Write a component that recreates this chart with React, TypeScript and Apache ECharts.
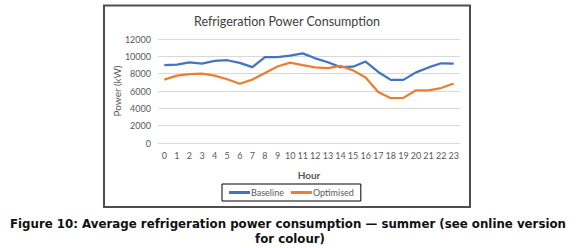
import React, { useEffect, useRef } from "react";
import * as echarts from "echarts";

const hours = ["0","1","2","3","4","5","6","7","8","9","10","11","12","13","14","15","16","17","18","19","20","21","22","23"];
const baseline = [8980, 9050, 9300, 9170, 9470, 9550, 9250, 8750, 9920, 9900, 10080, 10340, 9770, 9320, 8750, 8800, 9400, 8200, 7280, 7280, 8150, 8720, 9200, 9170];
const optimised = [7320, 7770, 7960, 8000, 7770, 7360, 6830, 7320, 8080, 8830, 9280, 8980, 8720, 8640, 8900, 8380, 7550, 5890, 5170, 5210, 6080, 6080, 6340, 6870];
const yMin = 0;
const yMax = 12000;
const yStep = 2000;
const titleText = "Refrigeration Power Consumption";
const xName = "Hour";
const yName = "Power (kW)";
const captionLine1 = "Figure 10: Average refrigeration power consumption \u2014 summer (see online version";
const captionLine2 = "for colour)";

export default function App() {
  const ref = useRef<HTMLDivElement>(null);
  useEffect(() => {
    if (!ref.current) return;
    const chart = echarts.init(ref.current, undefined, { renderer: "svg" });
    const font = "Lato, 'Open Sans', sans-serif";
    chart.setOption({
      animation: false,
      backgroundColor: "#ffffff",
      textStyle: { fontFamily: font },
      grid: { left: 158, right: 120, top: 39, bottom: 105, containLabel: false },
      xAxis: {
        type: "category",
        data: hours,
        boundaryGap: true,
        name: xName,
        nameLocation: "middle",
        nameGap: 27,
        nameTextStyle: { fontFamily: font, fontSize: 10, fontWeight: "bold", color: "#595959" },
        axisLine: { show: true, lineStyle: { color: "#d9d9d9", width: 1 } },
        axisTick: { show: false },
        axisLabel: { fontFamily: font, fontSize: 9, color: "#595959", margin: 8, interval: 0 },
      },
      yAxis: {
        type: "value",
        min: yMin,
        max: yMax,
        interval: yStep,
        name: yName,
        nameLocation: "middle",
        nameGap: 36,
        nameMoveOverlap: false,
        nameTextStyle: { fontFamily: font, fontSize: 10, color: "#595959" },
        axisLine: { show: false },
        axisTick: { show: false },
        axisLabel: {
          fontFamily: font,
          fontSize: 9,
          color: "#595959",
          margin: 7,
          formatter: (v: number) => String(v),
        },
        splitLine: { lineStyle: { color: "#d9d9d9", width: 1 } },
      },
      legend: {
        left: 222,
        top: 184,
        padding: [4, 7, 4, 7],
        borderColor: "#000000",
        borderWidth: 1,
        itemWidth: 21,
        itemHeight: 3,
        itemGap: 7,
        icon: "rect",
        textStyle: { fontFamily: font, fontSize: 9, color: "#595959", padding: [0, 0, 0, -4] },
        data: ["Baseline", "Optimised"],
      },
      series: [
        {
          name: "Baseline",
          type: "line",
          data: baseline,
          symbol: "none",
          lineStyle: { color: "#4472C4", width: 2.25 },
          itemStyle: { color: "#4472C4" },
        },
        {
          name: "Optimised",
          type: "line",
          data: optimised,
          symbol: "none",
          lineStyle: { color: "#ED7D31", width: 2.25 },
          itemStyle: { color: "#ED7D31" },
        },
      ],
      graphic: [
        {
          type: "rect",
          shape: { x: 104, y: 5.5, width: 366, height: 201.5 },
          style: { fill: "none", stroke: "#4d4d4d", lineWidth: 2 },
          silent: true,
        },
        {
          type: "text",
          x: 287,
          y: 21,
          style: {
            text: titleText,
            fontFamily: font,
            fontSize: 12.5,
            fill: "#404040",
            textAlign: "center",
            textVerticalAlign: "middle",
          },
        },
        {
          type: "text",
          x: 288,
          y: 224,
          style: {
            text: captionLine1,
            fontFamily: "'DejaVu Sans', sans-serif",
            fontWeight: "bold",
            fontSize: 11.8,
            fill: "#111111",
            textAlign: "center",
            textVerticalAlign: "middle",
          },
        },
        {
          type: "text",
          x: 290,
          y: 239,
          style: {
            text: captionLine2,
            fontFamily: "'DejaVu Sans', sans-serif",
            fontWeight: "bold",
            fontSize: 11.8,
            fill: "#111111",
            textAlign: "center",
            textVerticalAlign: "middle",
          },
        },
      ],
    });
    return () => chart.dispose();
  }, []);
  return (
    <div
      ref={ref}
      style={{ position: "absolute", left: 0, top: 0, width: 580, height: 248 }}
    />
  );
}
